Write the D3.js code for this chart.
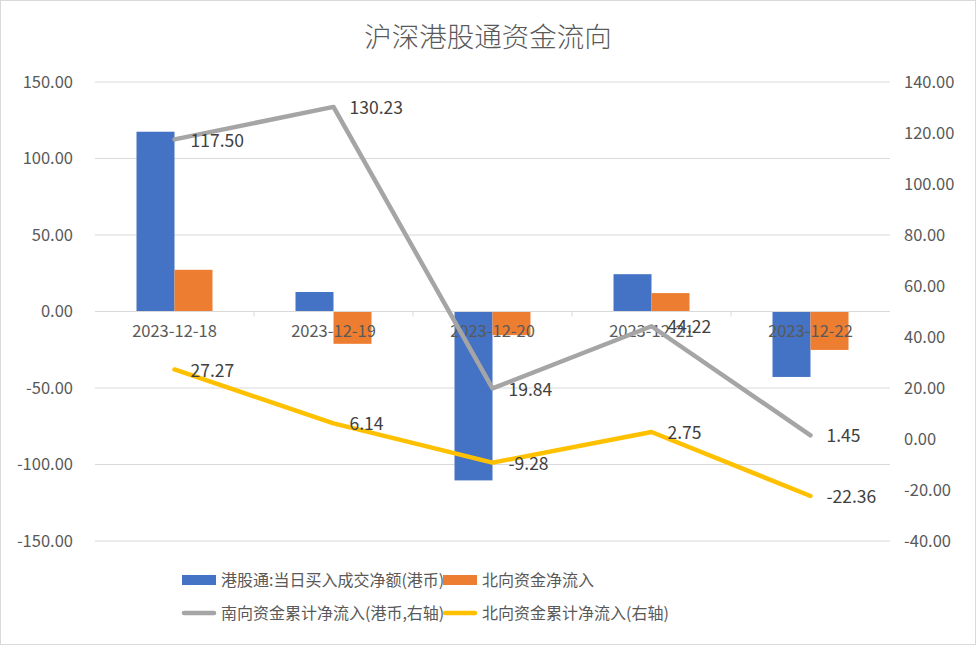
<!DOCTYPE html>
<html><head><meta charset="utf-8">
<script src="https://cdn.jsdelivr.net/npm/d3@7"></script>
<style>body{margin:0;background:#fff}svg{display:block;font-family:"Noto Sans CJK SC","Noto Sans",sans-serif}</style>
</head><body><svg id="c" width="976" height="645"></svg>
<script>
const categories = ["2023-12-18","2023-12-19","2023-12-20","2023-12-21","2023-12-22"];
const hkDaily = [117.50, 12.73, -110.39, 24.38, -42.77];
const northDaily = [27.27, -21.13, -15.42, 12.03, -25.11];
const southCum = [117.50, 130.23, 19.84, 44.22, 1.45];
const northCum = [27.27, 6.14, -9.28, 2.75, -22.36];
const leftTicks = [150, 100, 50, 0, -50, -100, -150];
const rightTicks = [140, 120, 100, 80, 60, 40, 20, 0, -20, -40];
const seriesNames = ["港股通:当日买入成交净额(港币)", "北向资金净流入", "南向资金累计净流入(港币,右轴)", "北向资金累计净流入(右轴)"];
const title = "沪深港股通资金流向";

const svg = d3.select("#c");
svg.append("rect").attr("x",0.5).attr("y",0.5).attr("width",975).attr("height",644).attr("fill","#fff").attr("stroke","#d9d9d9");
svg.append("text").attr("x",488).attr("y",47).attr("text-anchor","middle").attr("font-size",27.5).attr("font-weight",300).attr("fill","#595959").text(title);

const L = 95, R = 890, T = 82, B = 541;
const x = d3.scaleBand().domain(categories).range([L, R]);
const yL = d3.scaleLinear().domain([-150, 150]).range([B, T]);
const yR = d3.scaleLinear().domain([-40, 140]).range([B, T]);
const grid = "#d9d9d9", txt = "#595959";

// gridlines
svg.append("g").selectAll("line").data(leftTicks).join("line")
  .attr("x1", L).attr("x2", R).attr("y1", d => yL(d)).attr("y2", d => yL(d))
  .attr("stroke", grid).attr("stroke-width", 1);

const f2 = d3.format(".2f");
const fmt = d => f2(d).replace("\u2212", "-");
svg.append("g").selectAll("text").data(leftTicks).join("text")
  .attr("x", 73).attr("y", d => yL(d)).attr("dy", "0.35em").attr("text-anchor", "end")
  .attr("font-size", 16.5).attr("fill", txt).text(d => fmt(d));
svg.append("g").selectAll("text").data(rightTicks).join("text")
  .attr("x", 904).attr("y", d => yR(d)).attr("dy", "0.35em").attr("text-anchor", "start")
  .attr("font-size", 16.5).attr("fill", txt).text(d => fmt(d));

// bars
const bw = 38;
const g1 = svg.append("g");
g1.selectAll("rect.a").data(categories).join("rect").attr("class","a")
  .attr("x", d => x(d) + x.bandwidth()/2 - bw)
  .attr("width", bw)
  .attr("y", (d,i) => Math.min(yL(hkDaily[i]), yL(0)))
  .attr("height", (d,i) => Math.abs(yL(hkDaily[i]) - yL(0)))
  .attr("fill", "#4472c4");
g1.selectAll("rect.b").data(categories).join("rect").attr("class","b")
  .attr("x", d => x(d) + x.bandwidth()/2)
  .attr("width", bw)
  .attr("y", (d,i) => Math.min(yL(northDaily[i]), yL(0)))
  .attr("height", (d,i) => Math.abs(yL(northDaily[i]) - yL(0)))
  .attr("fill", "#ed7d31");

// x axis line and ticks
svg.append("line").attr("x1", L).attr("x2", R).attr("y1", yL(0)).attr("y2", yL(0)).attr("stroke", grid).attr("stroke-width", 1.2);
svg.append("g").selectAll("line").data(categories.slice(1)).join("line")
  .attr("x1", d => x(d)).attr("x2", d => x(d)).attr("y1", yL(0)).attr("y2", yL(0) + 5)
  .attr("stroke", grid);
svg.append("g").selectAll("text").data(categories).join("text")
  .attr("x", d => x(d) + x.bandwidth()/2).attr("y", yL(0) + 24).attr("dy", "0.1em").attr("text-anchor", "middle")
  .attr("font-size", 16.5).attr("fill", txt).text(d => d);

// lines
const cx = d => x(d) + x.bandwidth()/2;
function drawLine(vals, color) {
  const line = d3.line().x((d,i) => cx(categories[i])).y(d => yR(d));
  svg.append("path").datum(vals).attr("d", line).attr("fill", "none")
    .attr("stroke", color).attr("stroke-width", 4.5).attr("stroke-linecap", "round").attr("stroke-linejoin", "round");
  svg.append("g").selectAll("text").data(vals).join("text")
    .attr("x", (d,i) => cx(categories[i]) + 16).attr("y", d => yR(d) + 1).attr("dy", "0.35em")
    .attr("font-size", 17.5).attr("fill", "#404040").text(d => fmt(d));
}
drawLine(southCum, "#a5a5a5");
drawLine(northCum, "#ffc000");

// legend
const lg = svg.append("g").attr("font-size", 16).attr("fill", txt);
const items = [
  {x:182, y:580, type:"rect", color:"#4472c4", name:seriesNames[0]},
  {x:443, y:580, type:"rect", color:"#ed7d31", name:seriesNames[1]},
  {x:182, y:613, type:"line", color:"#a5a5a5", name:seriesNames[2]},
  {x:443, y:613, type:"line", color:"#ffc000", name:seriesNames[3]}
];
items.forEach(it => {
  if (it.type === "rect") lg.append("rect").attr("x", it.x).attr("y", it.y - 5).attr("width", 34).attr("height", 10).attr("fill", it.color);
  else lg.append("line").attr("x1", it.x + 2).attr("x2", it.x + 32).attr("y1", it.y).attr("y2", it.y).attr("stroke", it.color).attr("stroke-width", 4.5).attr("stroke-linecap", "round");
  lg.append("text").attr("x", it.x + 39).attr("y", it.y).attr("dy", "0.35em").attr("fill", txt).text(it.name);
});
</script></body></html>
